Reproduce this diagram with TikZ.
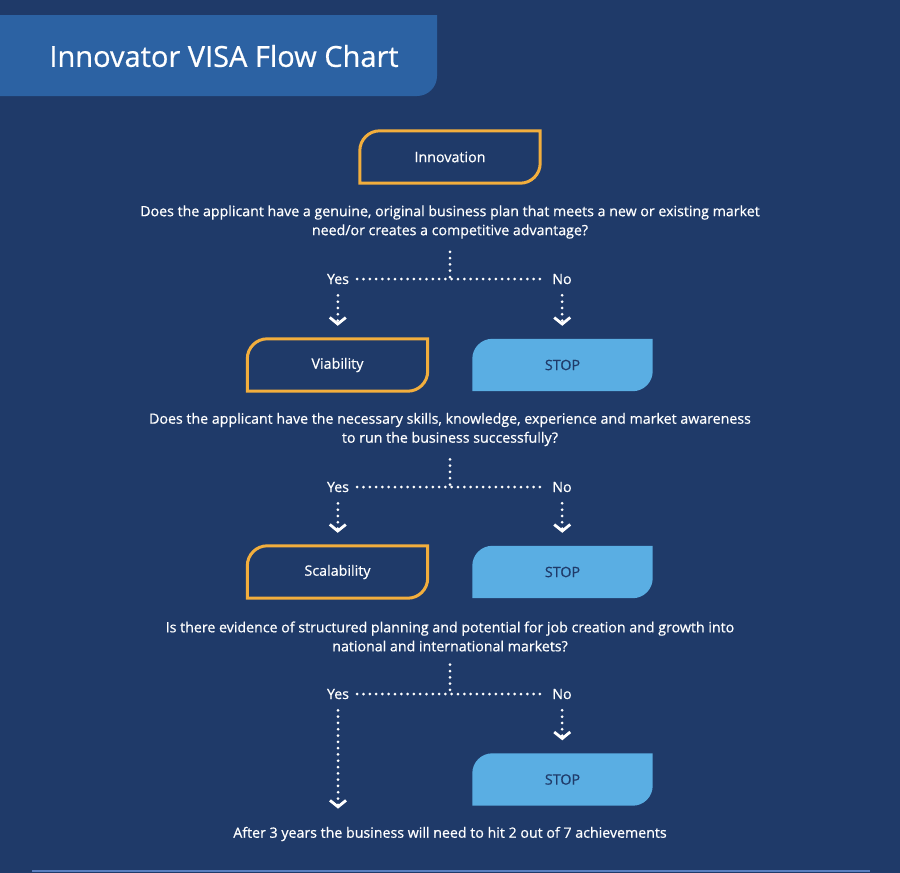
\documentclass[tikz,border=0pt]{standalone}
\usepackage{fontspec}
\setmainfont{Open Sans}[FakeBold=0.6]
\usetikzlibrary{arrows.meta}
\definecolor{navy}{HTML}{1F3A69}
\definecolor{banner}{HTML}{2C62A3}
\definecolor{gold}{HTML}{F2AE3D}
\definecolor{stopblue}{HTML}{5AAEE3}
\definecolor{rulecol}{HTML}{5A7FBF}
\tikzset{
  txt/.style={text=white, font=\fontsize{14.2}{19}\selectfont, align=center, inner sep=0pt},
  tabbox/.style={minimum width=180pt, minimum height=52pt, inner sep=0pt, font=\fontsize{14.3}{16}\selectfont},
  dots/.style={white, line width=3pt, line cap=round, dash pattern=on 0pt off 6.3pt},
  godown/.style={dots, -{Straight Barb[length=6.5pt,width=16pt,line width=2.8pt]}, shorten <=11pt, shorten >=13pt}
}
\begin{document}
\begin{tikzpicture}[x=1pt,y=1pt]
		\useasboundingbox (0,0) rectangle (900,-873);
		\fill[navy] (0,0) rectangle (900,-873);
		%Title banner
		\fill[banner] (0,-15) -- (437,-15) -- (437,-76) arc[start angle=0,end angle=-90,radius=20pt] -- (0,-96) -- cycle;
		\node[text=white, font=\fontsize{29}{32}\selectfont, inner sep=0pt] (title) at (224,-56) {Innovator VISA Flow Chart};
		%Boxes
		\node[tabbox] (inno) at (450,-157) {};
		\node[tabbox] (via) at (337.5,-365) {};
		\node[tabbox] (stop1) at (562.5,-365) {};
		\node[tabbox] (scal) at (337.5,-572) {};
		\node[tabbox] (stop2) at (562.5,-572) {};
		\node[tabbox] (stop3) at (562.5,-779.5) {};
		\foreach \b in {inno,via,scal}
		\draw[gold, line width=3pt] (\b.south west) -- ([yshift=-20pt]\b.north west) arc[start angle=180,end angle=90,radius=20pt] -- (\b.north east) -- ([yshift=20pt]\b.south east) arc[start angle=0,end angle=-90,radius=20pt] -- cycle;
		\foreach \b in {stop1,stop2,stop3}
		\fill[stopblue] (\b.south west) -- ([yshift=-20pt]\b.north west) arc[start angle=180,end angle=90,radius=20pt] -- (\b.north east) -- ([yshift=20pt]\b.south east) arc[start angle=0,end angle=-90,radius=20pt] -- cycle;
		\foreach \b/\t in {inno/Innovation,via/Viability,scal/Scalability}
		\node[tabbox, text=white] at (\b) {\t};
		\foreach \b in {stop1,stop2,stop3}
		\node[tabbox, text=navy] at (\b) {STOP};
		%Questions
		\node[txt] (q1) at (450,-222) {Does the applicant have a genuine, original business plan that meets a new or existing market\\need/or creates a competitive advantage?};
		\node[txt] (q2) at (450,-429.5) {Does the applicant have the necessary skills, knowledge, experience and market awareness\\to run the business successfully?};
		\node[txt] (q3) at (450,-636.5) {Is there evidence of structured planning and potential for job creation and growth into\\national and international markets?};
		\node[txt] (last) at (450,-834) {After 3 years the business will need to hit 2 out of 7 achievements};
		%Yes / No branches
		\foreach \i/\y in {1/-279,2/-487,3/-694} {
		\node[txt] (yes\i) at (338,\y) {Yes};
		\node[txt] (no\i) at (562,\y) {No};
		\draw[dots, shorten <=8pt, shorten >=8pt] (yes\i) -- (no\i);
		\draw[dots, shorten <=13pt] (q\i.south) -- (q\i.south |- yes\i);
		}
		\draw[godown] (yes1) -- (via);
		\draw[godown] (no1) -- (stop1);
		\draw[godown] (yes2) -- (scal);
		\draw[godown] (no2) -- (stop2);
		\draw[godown] (no3) -- (stop3);
		\draw[godown, shorten >=18pt] (yes3) -- (yes3 |- last.north);
		\draw[rulecol, line width=1.2pt] (32,-871) -- (870,-871);
\end{tikzpicture}
\end{document}
